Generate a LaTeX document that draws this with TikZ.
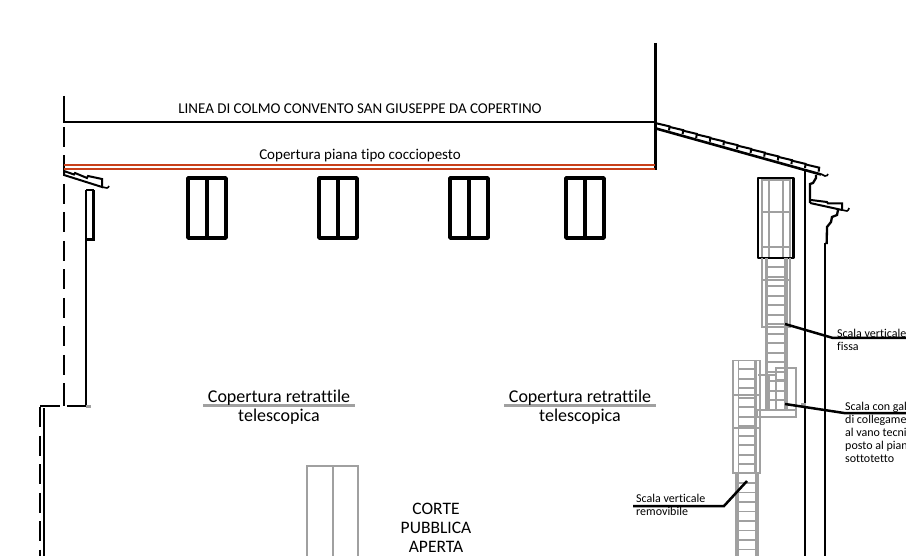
\documentclass[tikz,border=0pt]{standalone}
\usepackage{fontspec}
\setmainfont[Ligatures=NoCommon]{Carlito}
\definecolor{stairgray}{HTML}{A0A0A0}
\definecolor{roofred}{HTML}{C8401A}
\definecolor{rooflight}{HTML}{F0A078}
\tikzset{
  wall/.style={draw=black,line width=2.3pt,line cap=butt},
  thinwall/.style={draw=black,line width=1.6pt},
  win/.style={draw=black,line width=3.5pt,line join=round},
  dashwall/.style={draw=black,line width=2.5pt,dash pattern=on 20pt off 8.5pt},
  tile/.style={draw=black,line width=2pt,line join=miter},
  gline/.style={draw=stairgray,line width=1.8pt},
  grail/.style={draw=stairgray,line width=3.6pt},
  grung/.style={draw=stairgray,line width=1.8pt},
  leader/.style={draw=black,line width=2.5pt},
  lab/.style={font=\fontsize{12}{13}\selectfont,inner sep=0pt,anchor=north west,align=left},
  title/.style={font=\fontsize{15}{17}\selectfont,inner sep=0pt},
  big/.style={font=\fontsize{18}{19}\selectfont,inner sep=0pt,align=center},
}
\begin{document}
\begin{tikzpicture}[x=1pt,y=-1pt]
\useasboundingbox (0,0) rectangle (906,556);
% main outline
\draw[wall] (64,96) -- (64,122) -- (656,122);
\draw[wall] (655.5,43) -- (655.5,170);
\draw[dashwall] (64,127) -- (64,384);
\draw[wall] (64,384) -- (64,406);
% red roof
\foreach \y in {165,169}{
 \draw[draw=rooflight,line width=2.4pt] (64,\y) -- (655,\y);
 \draw[draw=roofred,line width=1.3pt] (64,\y) -- (655,\y);
}
% left eave
\draw[tile] (64,170.5) -- (64,175) -- (102,187) -- (102,179) -- (88,176) -- (87,178) -- (75,173) -- (74,174.5) -- (64,171);
\draw[thinwall] (102,187) -- (107,188) .. controls (108,187.5) and (109,187) .. (109,186);
\draw[wall] (86,190) -- (86,406);
\draw[thinwall] (86,190) -- (94,190);
\draw[wall,line width=3pt] (93,190) -- (93,240) -- (86,240);
% windows
\foreach \x in {188,319,450,566}{
 \draw[win] (\x,178) rectangle (\x+38,238);
 \draw[win] (\x+19,178) -- (\x+19,238);
}
% right roof
\draw[tile,line width=2.6pt] (656,128.5) -- (821,174.5);
\foreach \i in {0,...,11}{
 \pgfmathsetmacro\xa{656+\i*13.6}
 \pgfmathsetmacro\ya{123.2+\i*3.75}
 \draw[tile] (\xa,\ya) -- (\xa+13.6,\ya+3.2) -- (\xa+13,\ya+7.2);
}
\draw[wall] (656,123) -- (656,128);
\draw[thinwall] (821,174) -- (825,176) .. controls (827,176) and (828,175) .. (828,174);
% right walls
\draw[wall] (805.3,169) -- (805.3,556);
\draw[wall] (825.3,243) -- (825.3,556);
\draw[wall] (816,175) -- (816,178) -- (813,183) -- (810,184) -- (810,203);
\draw[tile] (810,203) -- (842,210);
\draw[tile] (811,200) -- (827,202) -- (828,203.5) -- (842,203.5) -- (842,210);
\draw[thinwall] (842,210) -- (847,211) .. controls (848,211) and (849,209) .. (849,208);
\draw[wall] (838,210) -- (837,215) -- (832,217) -- (831,222) -- (827,227) -- (826.7,243) -- (825.3,243);
% upper cage
\draw[gline] (762,178) -- (762,258) (769,178) -- (769,258) (783,178) -- (783,258) (790,178) -- (790,258);
\draw[gline] (762,180) -- (790,180) (762,212) -- (790,212) (762,247) -- (790,247);
\draw[win,line width=2.5pt] (758,178) rectangle (793.5,258);
% fixed ladder, caged part
\draw[grail] (766.5,258) -- (766.5,410) (786,258) -- (786,410);
\draw[gline] (762,258) -- (762,327) -- (790,327) -- (790,258);
\draw[gline] (762,280) -- (790,280);
\foreach \y in {267.2,276.7,...,405}{\draw[grung] (766,\y) -- (786,\y);}
% gallery
\draw[gline,line width=2.2pt] (757,410) rectangle (796,417);
\draw[gline,line width=2.2pt] (758,375) -- (776,375) (776,368) rectangle (796,410);
\draw[gline] (776,380) -- (786,380);
\draw[gline] (769,375) -- (769,410);
% removable ladder
\draw[gline] (733,360.5) rectangle (760,473);
\draw[gline] (733,395) -- (760,395) (733,428) -- (760,428);
\draw[gline] (738.5,360) -- (738.5,473);
\draw[grail] (755.5,360) -- (755.5,473);
\foreach \y in {369.3,378.8,...,473}{\draw[grung] (738,\y) -- (755,\y);}
\draw[grail] (737,473) -- (737,556) (757,473) -- (757,556);
\foreach \y in {483,492.5,...,556}{\draw[grung] (737,\y) -- (757,\y);}
% grey items
\draw[gline,line width=3pt] (86,406) -- (91,406);
\draw[gline] (333,556) -- (333,466);
\draw[gline] (307,556) -- (307,466) -- (358,466) -- (358,556);
\draw[draw=stairgray,line width=3pt] (203,405) -- (355,405);
\draw[draw=stairgray,line width=3pt] (504,405) -- (656,405);
\draw[draw=stairgray,line width=3pt] (801,404) -- (806,404);
% lower-left walls
\draw[wall] (40,406) -- (60,406) (67,406) -- (86,406);
\draw[dashwall] (40,407) -- (40,556);
\draw[wall] (44,408) -- (44,556);
% labels
\node[title] (colmo) at (360,109) {LINEA DI COLMO CONVENTO SAN GIUSEPPE DA COPERTINO};
\node[title] (piana) at (360,156) {Copertura piana tipo cocciopesto};
\node[big] (retrA) at (279,407) {Copertura retrattile\\telescopica};
\node[big] (retrB) at (580,407) {Copertura retrattile\\telescopica};
\node[big,font=\fontsize{17.5}{19}\selectfont] (corte) at (436,528) {CORTE\\PUBBLICA\\APERTA};
\node[lab] (fissa) at (837,329) {Scala verticale\\fissa};
\node[lab] (gall) at (845,402) {Scala con gal\\di collegame\\al vano tecni\\posto al pian\\sottotetto};
\node[lab] (remov) at (636,494) {Scala verticale\\removibile};
% leaders
\coordinate (fa) at (785,324); \coordinate (fb) at (833,338); \coordinate (fc) at (906,338);
\coordinate (ga) at (785,404); \coordinate (gb) at (844,413); \coordinate (gc) at (906,413);
\coordinate (ra) at (747,481); \coordinate (rb) at (724,506); \coordinate (rc) at (633,506);
\draw[leader] (fa) -- (fb) -- (fc);
\draw[leader] (ga) -- (gb) -- (gc);
\draw[leader] (ra) -- (rb) -- (rc);
\end{tikzpicture}
\end{document}
